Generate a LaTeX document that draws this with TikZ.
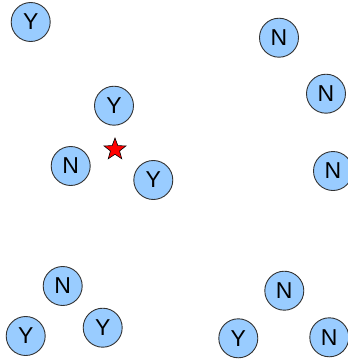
\documentclass[tikz,border=0pt]{standalone}
\usepackage{fontspec}
\setmainfont{Liberation Sans}
\usetikzlibrary{shapes.geometric}
\definecolor{agentblue}{HTML}{99CCFF}
\begin{document}
\begin{tikzpicture}[x=1pt,y=-1pt,
  agent/.style={circle,draw=black!80,fill=agentblue,line width=0.9pt,minimum size=39pt,inner sep=0pt,font=\fontsize{23}{23}\selectfont}]
\useasboundingbox (0,0) rectangle (348,362);
% top left group
\node[agent] (y1) at (30.7,22) {Y};
\node[agent] (y2) at (114,105.7) {Y};
\node[agent] (n1) at (70.7,166) {N};
\node[agent] (y3) at (153.3,180) {Y};
\node[star,star points=5,star point ratio=2.4,fill=red,draw=black,line width=0.6pt,minimum size=23pt,inner sep=0pt] (here) at (115,149.5) {};
% right column
\node[agent] (n2) at (279,37.7) {N};
\node[agent] (n3) at (326,93.7) {N};
\node[agent] (n4) at (333,171) {N};
% bottom groups
\node[agent] (n5) at (62.7,286) {N};
\node[agent] (y4) at (25.7,336) {Y};
\node[agent] (y5) at (102.7,327.7) {Y};
\node[agent] (n6) at (284.3,290.7) {N};
\node[agent] (y6) at (238.3,338.3) {Y};
\node[agent] (n7) at (329.3,337.3) {N};
\end{tikzpicture}
\end{document}
